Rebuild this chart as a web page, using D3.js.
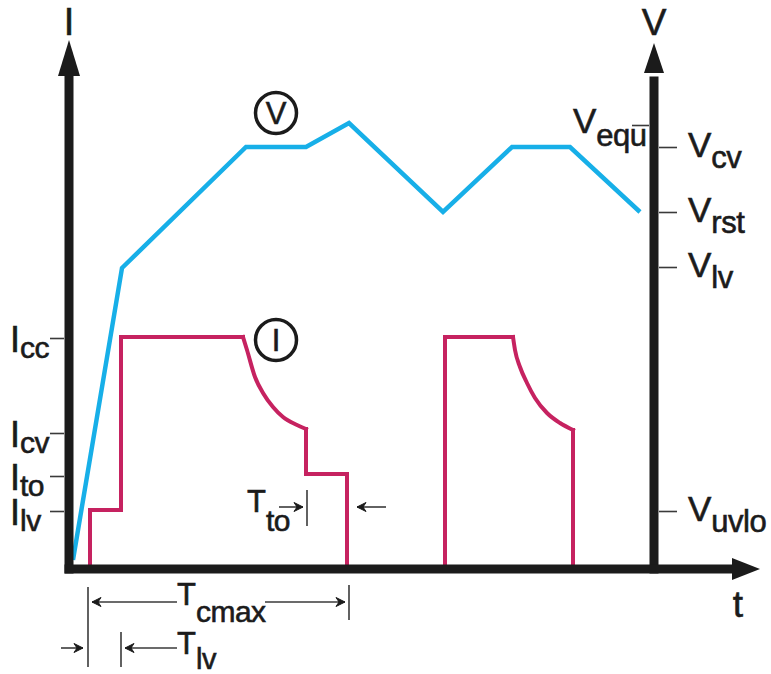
<!DOCTYPE html>
<html><head><meta charset="utf-8">
<script src="https://cdn.jsdelivr.net/npm/d3@7/dist/d3.min.js"></script>
<style>
html,body{margin:0;padding:0;background:#fff;}
svg{display:block;font-family:"Liberation Sans",Arial,sans-serif;}
</style></head>
<body>
<svg id="c" width="771" height="674"></svg>
<script>
// ---- data ----
const currentTickNames  = ["cc", "cv", "to", "lv"];
const currentTickValues = [46.2, 27.2, 18.6, 11.6];
const voltageTickNames  = ["cv", "rst", "lv", "uvlo"];
const voltageTickValues = [84.4, 71.4, 60.4, 11.6];
const equTickName  = "equ";
const equTickValue = 88.8;

const voltageT = [0.8, 10.6, 35.4, 47.4, 56.0, 74.8, 88.6, 100.2, 114.2];
const voltageV = [1.8, 60.2, 84.4, 84.4, 89.2, 71.4, 84.4, 84.4, 71.4];

const pulse1StepT  = [4.2, 4.2, 10.4, 10.4, 34.8];
const pulse1StepI  = [0, 11.8, 11.8, 46.4, 46.4];
const pulse1CurveT = [34.8, 35.6, 37.2, 38.8, 40.8, 42.8, 45.6, 47.4];
const pulse1CurveI = [46.4, 43.8, 38.4, 35.2, 32.4, 30.4, 28.8, 28.0];
const pulse1TailT  = [47.4, 47.4, 55.6, 55.6];
const pulse1TailI  = [28.0, 19.0, 19.0, 0];

const pulse2StepT  = [75.2, 75.2, 88.8];
const pulse2StepI  = [0, 46.4, 46.4];
const pulse2CurveT = [88.8, 89.2, 90.2, 91.6, 93.2, 95.6, 98.2, 100.8];
const pulse2CurveI = [46.4, 43.8, 40.4, 37.2, 34.2, 31.2, 29.2, 27.8];
const pulse2TailT  = [100.8, 100.8];
const pulse2TailI  = [27.8, 0];

const markTcmax = [3.8, 56.0];
const markTlv   = [3.8, 10.4];
const markTto   = [47.6, 55.6];

// ---- scales ----
const svg = d3.select("#c");
const xT = d3.scaleLinear().domain([0, 117]).range([69, 654]);
const yI = d3.scaleLinear().domain([0, 105.8]).range([569, 40]);
const yV = d3.scaleLinear().domain([0, 105.8]).range([569, 40]);

const BLUE = "#17afe8", MAG = "#c62260", BLK = "#1b1b1b", TICK = "#3a3a3a";

const zip = (a, b) => a.map((v, i) => [v, b[i]]);
const lineI = d3.line().x(d => xT(d[0])).y(d => yI(d[1]));
const curveI = d3.line().x(d => xT(d[0])).y(d => yI(d[1])).curve(d3.curveMonotoneX);
const lineV = d3.line().x(d => xT(d[0])).y(d => yV(d[1]));

// ---- series ----
const gS = svg.append("g");
gS.append("path").attr("d", lineV(zip(voltageT, voltageV)))
  .attr("fill", "none").attr("stroke", BLUE).attr("stroke-width", 4.5)
  .attr("stroke-linejoin", "miter");

[[pulse1StepT, pulse1StepI, lineI], [pulse1CurveT, pulse1CurveI, curveI], [pulse1TailT, pulse1TailI, lineI],
 [pulse2StepT, pulse2StepI, lineI], [pulse2CurveT, pulse2CurveI, curveI], [pulse2TailT, pulse2TailI, lineI]]
 .forEach(([t, i, gen]) => {
   gS.append("path").attr("d", gen(zip(t, i)))
     .attr("fill", "none").attr("stroke", MAG).attr("stroke-width", 4)
     .attr("stroke-linejoin", "miter").attr("stroke-linecap", "square");
 });

// ---- axes ticks ----
const gL = svg.append("g").attr("transform", "translate(64,0)")
  .call(d3.axisLeft(yI).tickValues(currentTickValues).tickSize(14).tickSizeOuter(0).tickFormat(""));
const gR = svg.append("g").attr("transform", "translate(659,0)")
  .call(d3.axisRight(yV).tickValues(voltageTickValues).tickSize(18).tickSizeOuter(0).tickFormat(""));
const gE = svg.append("g").attr("transform", "translate(649,0)")
  .call(d3.axisLeft(yV).tickValues([equTickValue]).tickSize(17).tickSizeOuter(0).tickFormat(""));
[gL, gR, gE].forEach(g => {
  g.select(".domain").remove();
  g.selectAll(".tick line").attr("stroke", TICK).attr("stroke-width", 1.6);
});

// ---- thick axis lines + arrows ----
const gA = svg.append("g");
const x0 = xT(0), xR = xT(117), yB = yI(0);
gA.append("line").attr("x1", x0).attr("x2", x0).attr("y1", yB + 4.5).attr("y2", yI(99)).attr("stroke", BLK).attr("stroke-width", 9);
gA.append("path").attr("d", `M${x0},${yI(105.8)} L${x0 + 11},${yI(98.6)} L${x0 - 11},${yI(98.6)} Z`).attr("fill", BLK);
gA.append("line").attr("x1", xR).attr("x2", xR).attr("y1", yB + 4.5).attr("y2", yV(98.5)).attr("stroke", BLK).attr("stroke-width", 9);
gA.append("path").attr("d", `M${xR},${yV(105.2)} L${xR + 10},${yV(99.2)} L${xR - 10},${yV(99.2)} Z`).attr("fill", BLK);
gA.append("line").attr("x1", x0 - 4.5).attr("x2", xT(134)).attr("y1", yB).attr("y2", yB).attr("stroke", BLK).attr("stroke-width", 9);
gA.append("path").attr("d", `M${xT(138.2)},${yB} L${xT(132.6)},${yB - 11} L${xT(132.6)},${yB + 11} Z`).attr("fill", BLK);

// ---- text helper ----
function lab(x, y, main, sub, opts = {}) {
  const ms = opts.ms || 36, ss = opts.ss || 30, dy = opts.dy || 7;
  const t = svg.append("text").attr("x", x).attr("y", y).attr("fill", BLK)
    .attr("stroke", BLK).attr("stroke-width", 0.6)
    .attr("text-anchor", opts.anchor || "start");
  t.append("tspan").attr("font-size", ms).text(main);
  if (sub) t.append("tspan").attr("font-size", ss).attr("dy", dy).attr("letter-spacing", -0.5).text(sub);
  return t;
}

// axis titles
lab(x0, 35, "I", null, {ms: 38, anchor: "middle"});
lab(xR, 35, "V", null, {ms: 37, anchor: "middle"});
lab(738, 617, "t", null, {ms: 37, anchor: "middle"});

// current tick labels
currentTickNames.forEach((n, i) => lab(10, yI(currentTickValues[i]) + 14, "I", n, {ms: 36, ss: 30, dy: 6}));
// voltage tick labels
voltageTickNames.forEach((n, i) => lab(688, yV(voltageTickValues[i]) + 10, "V", n, {ms: 35, ss: 31, dy: 11}));
lab(573, yV(equTickValue) + 8, "V", equTickName, {ms: 35, ss: 31, dy: 13});

// circled series labels
function circ(cx, cy, ch) {
  svg.append("circle").attr("cx", cx).attr("cy", cy).attr("r", 20.5)
    .attr("fill", "#fff").attr("stroke", BLK).attr("stroke-width", 3.5);
  svg.append("text").attr("x", cx).attr("y", cy + 11).attr("text-anchor", "middle")
    .attr("font-size", 31).attr("fill", BLK).attr("stroke", BLK).attr("stroke-width", 0.6).text(ch);
}
circ(xT(41.4), yV(91.2), "V");
circ(xT(41.4), yI(45.8), "I");

// ---- interval markers ----
const gM = svg.append("g").attr("stroke", TICK).attr("stroke-width", 1.6).attr("fill", "none");
function vbar(x, y1, y2) { gM.append("line").attr("x1", x).attr("x2", x).attr("y1", y1).attr("y2", y2); }
function arrow(xFrom, xTo, y) {
  gM.append("line").attr("x1", xFrom).attr("x2", xTo).attr("y1", y).attr("y2", y);
  const d = xTo > xFrom ? 1 : -1;
  svg.append("path").attr("d", `M${xTo},${y} L${xTo - d * 9},${y - 4.5} L${xTo - d * 6},${y} L${xTo - d * 9},${y + 4.5} Z`)
    .attr("fill", BLK).attr("stroke", BLK).attr("stroke-width", 1).attr("stroke-linejoin", "round");
}
// T cmax
vbar(xT(markTcmax[0]), 587, 667);
vbar(xT(markTcmax[1]), 585, 620);
arrow(177, xT(markTcmax[0]) + 4, 602);
arrow(265, xT(markTcmax[1]) - 4, 602);
lab(177, 605, "T", "cmax", {ms: 31, ss: 30, dy: 17});
// T lv
vbar(xT(markTlv[1]), 632, 667);
arrow(61, xT(markTlv[0]) - 5, 648);
arrow(177, xT(markTlv[1]) + 4, 648);
lab(177, 654, "T", "lv", {ms: 31, ss: 29, dy: 15});
// T to
vbar(xT(markTto[0]), 490, 526);
arrow(279, xT(markTto[0]) - 4, 507);
arrow(386, xT(markTto[1]) + 10, 507);
lab(247, 512, "T", "to", {ms: 31, ss: 30, dy: 19});
</script>
</body></html>
